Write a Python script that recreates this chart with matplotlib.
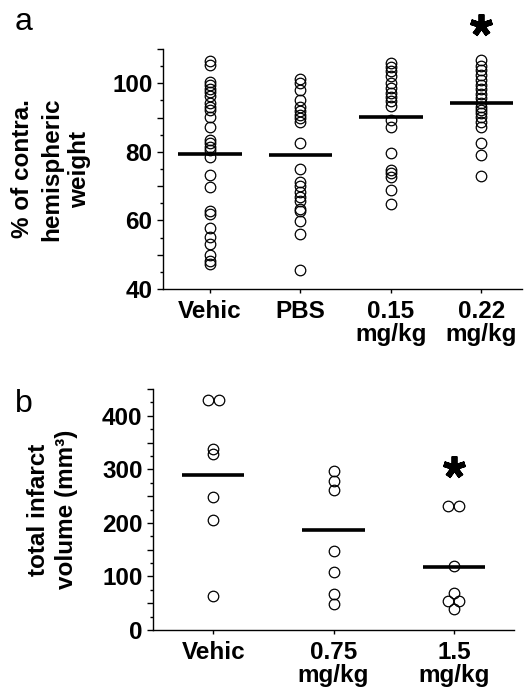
import numpy as np
import matplotlib
matplotlib.use("Agg")
import matplotlib.pyplot as plt

plt.rcParams["font.family"] = ["Liberation Sans", "DejaVu Sans"]

# panel a: % of contralateral hemispheric weight
groups_a = ["Vehic", "PBS", "0.15\nmg/kg", "0.22\nmg/kg"]
vehic_a = [106.5, 105.4, 100.3, 99.4, 98.4, 97.4, 96.4, 94.2, 93.2, 92.2,
           90.3, 87.2, 83.4, 82.5, 81.5, 80.5, 78.6, 73.2, 69.8, 62.7,
           61.8, 57.8, 55.1, 53.2, 49.8, 48.3, 47.3]
pbs_a = [101.2, 100.2, 98.1, 95.0, 93.2, 92.0, 90.8, 89.8, 88.6, 82.7,
         75.1, 71.2, 70.1, 68.3, 66.8, 65.7, 63.4, 62.7, 59.7, 56.1, 45.6]
dose015_a = [105.9, 104.7, 103.5, 102.2, 100.0, 98.6, 97.1, 95.9, 94.7,
             93.4, 89.3, 87.2, 79.8, 74.7, 73.7, 72.7, 68.8, 64.7]
dose022_a = [106.7, 105.1, 103.8, 102.5, 101.0, 99.6, 98.3, 96.9, 95.6,
             94.2, 93.2, 92.2, 91.3, 90.1, 88.8, 87.2, 82.5, 79.0, 72.9]
means_a = [79.5, 79.1, 90.3, 94.2]
star_a_group, star_a_value = 3, 117

# panel b: total infarct volume (mm3)
groups_b = ["Vehic", "0.75\nmg/kg", "1.5\nmg/kg"]
vehic_b = [430, 430, 338, 328, 248, 206, 63]
dose075_b = [296, 279, 261, 148, 109, 68, 49]
dose15_b = [232, 232, 119, 69, 54, 54, 39]
means_b = [289, 186, 118]
star_b_group, star_b_value = 2, 304

W, H = 527, 698


def dodge(values, step):
    # spread identical values side by side
    vals = np.asarray(values, dtype=float)
    offs = np.zeros(len(vals))
    for v in np.unique(vals):
        idx = np.where(vals == v)[0]
        if len(idx) > 1:
            offs[idx] = (np.arange(len(idx)) - (len(idx) - 1) / 2) * step
    return offs


def draw_panel(ax, data, means, half, step):
    for i, vals in enumerate(data):
        x = i + dodge(vals, step)
        ax.plot(x, vals, "o", mfc="none", mec="black", ms=7.6, mew=0.9,
                ls="none", clip_on=False)
        ax.plot([i - half, i + half], [means[i]] * 2, color="black", lw=2.6,
                solid_capstyle="butt")
    for s in ("top", "right"):
        ax.spines[s].set_visible(False)
    for s in ("left", "bottom"):
        ax.spines[s].set_linewidth(1.0)
    ax.tick_params(axis="both", which="both", direction="out", width=1.0,
                   labelsize=17.5)
    ax.tick_params(axis="y", which="major", length=4.5, pad=3)
    ax.tick_params(axis="y", which="minor", length=2.5)
    ax.tick_params(axis="x", length=3, pad=5)
    for lab in ax.get_xticklabels() + ax.get_yticklabels():
        lab.set_fontweight("bold")


fig = plt.figure(figsize=(W / 100, H / 100), dpi=100)

# ---- panel a
ax1 = fig.add_axes([163 / W, (H - 289) / H, (522 - 163) / W, (289 - 49) / H])
ax1.set_xlim(-0.52, 3.45)
ax1.set_ylim(40, 110)
ax1.set_xticks(range(len(groups_a)), groups_a, linespacing=1.0)
ax1.set_yticks(np.arange(40, 111, 10),
               ["40", "", "60", "", "80", "", "100", ""])
ax1.set_yticks(np.arange(45, 110, 10), minor=True)
draw_panel(ax1, [vehic_a, pbs_a, dose015_a, dose022_a], means_a, 0.35, 0.11)
ax1.plot(star_a_group, star_a_value, marker=(5, 2, 0), ms=16, mew=4.2,
         color="black", clip_on=False)
ax1.set_ylabel("% of contra.\nhemispheric\nweight", fontsize=17.5,
               fontweight="bold", linespacing=1.3)
ax1.yaxis.set_label_coords(-0.2, 0.5)

# ---- panel b
ax2 = fig.add_axes([153 / W, (H - 630) / H, (514 - 153) / W, (630 - 389) / H])
ax2.set_xlim(-0.5, 2.5)
ax2.set_ylim(0, 450)
ax2.set_xticks(range(len(groups_b)), groups_b, linespacing=1.0)
ax2.set_yticks(np.arange(0, 451, 50),
               ["0", "", "100", "", "200", "", "300", "", "400", ""])
ax2.set_yticks(np.arange(25, 450, 50), minor=True)
draw_panel(ax2, [vehic_b, dose075_b, dose15_b], means_b, 0.26, 0.09)
ax2.plot(star_b_group, star_b_value, marker=(5, 2, 0), ms=16, mew=4.2,
         color="black", clip_on=False)
ax2.set_ylabel("total infarct\nvolume (mm³)", fontsize=17.5,
               fontweight="bold", linespacing=1.3)
ax2.yaxis.set_label_coords(-0.208, 0.5)

fig.text(15 / W, 1 - 30 / H, "a", fontsize=23, va="baseline")
fig.text(15 / W, 1 - 412 / H, "b", fontsize=23, va="baseline")

fig.savefig("out.png", dpi=100)
